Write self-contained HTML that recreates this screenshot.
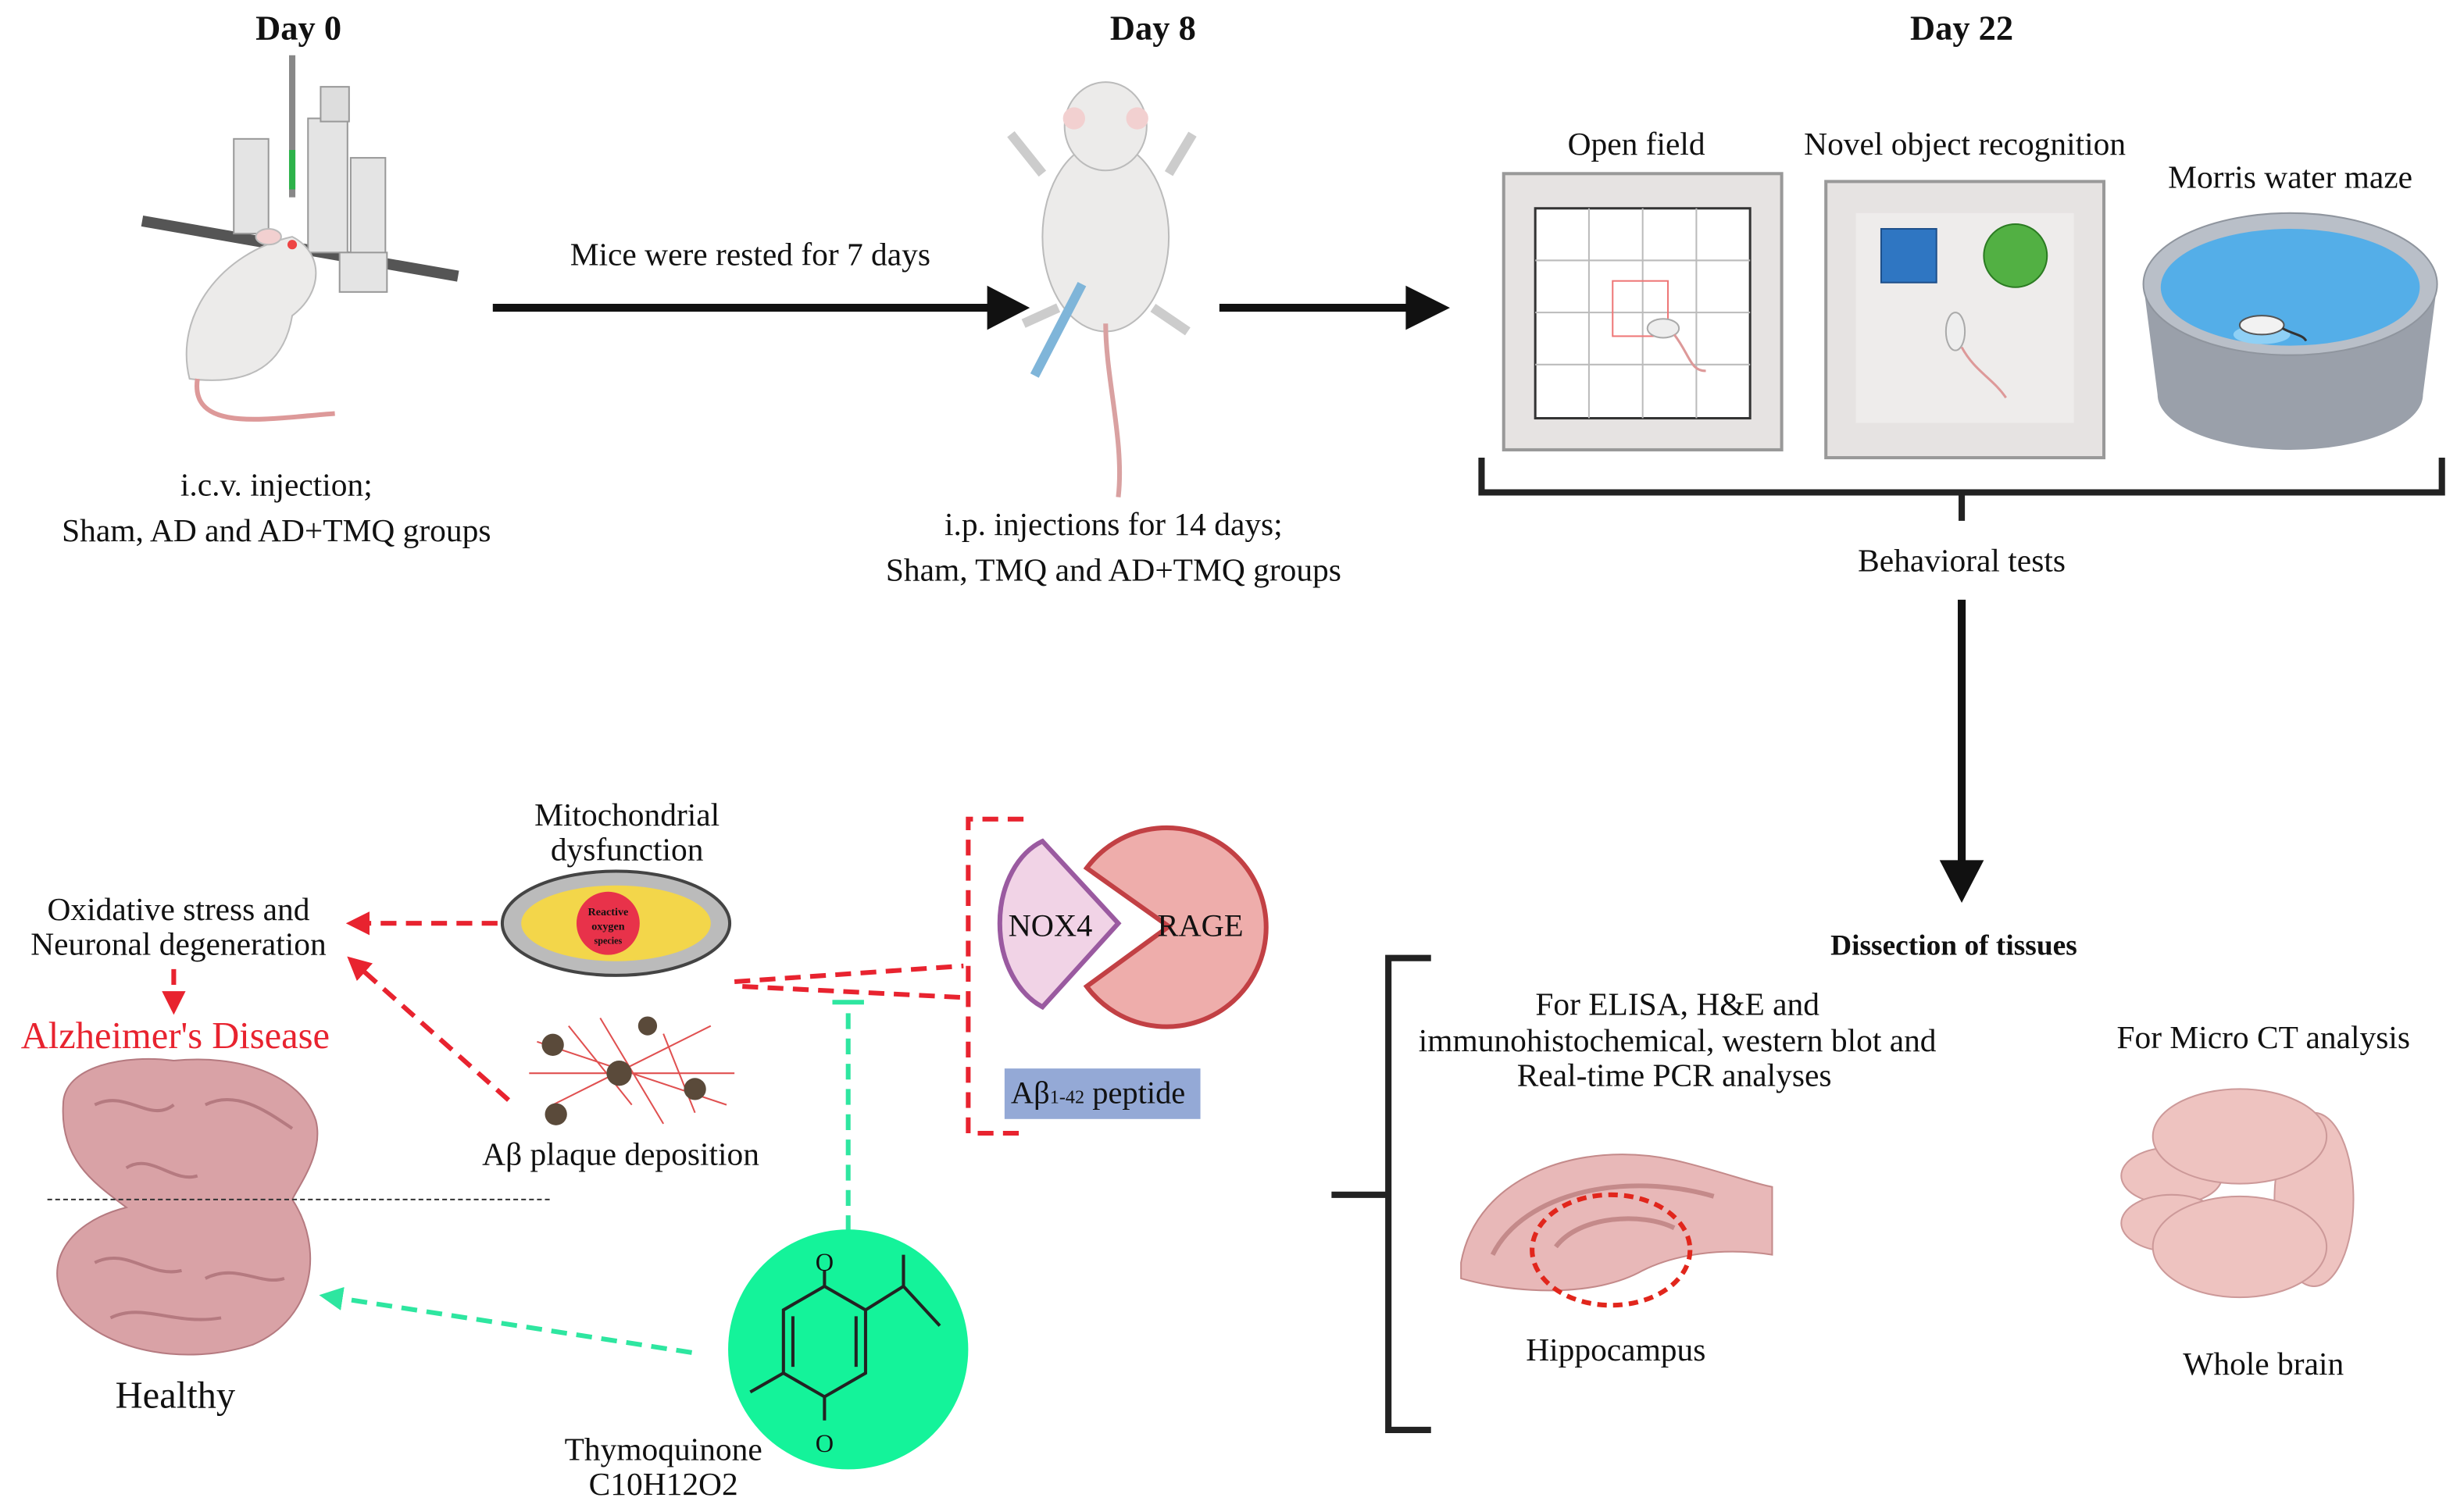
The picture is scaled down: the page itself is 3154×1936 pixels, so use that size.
<!DOCTYPE html>
<html><head><meta charset="utf-8"><style>
html,body{margin:0;padding:0;background:#fff;}
svg{display:block}
text{font-family:"Liberation Serif",serif;fill:#111}
</style></head><body>
<svg width="3154" height="1936" viewBox="0 0 1560 958" preserveAspectRatio="none" xmlns="http://www.w3.org/2000/svg">
<defs>
<marker id="ar" markerWidth="5" markerHeight="5" refX="4" refY="2.5" orient="auto" markerUnits="strokeWidth"><path d="M0,0 L5,2.5 L0,5z" fill="#e8232f"/></marker>
<marker id="at" markerWidth="5" markerHeight="5" refX="4" refY="2.5" orient="auto" markerUnits="strokeWidth"><path d="M0,0 L5,2.5 L0,5z" fill="#2ee6a0"/></marker>
</defs>
<g font-weight="bold" font-size="22" text-anchor="middle">
<text x="189" y="25">Day 0</text><text x="730" y="25">Day 8</text><text x="1242" y="25">Day 22</text></g>
<line x1="312" y1="195" x2="628" y2="195" stroke="#111" stroke-width="5"/>
<path d="M625,181 L652,195 L625,209z" fill="#111"/>
<line x1="772" y1="195" x2="892" y2="195" stroke="#111" stroke-width="5"/>
<path d="M890,181 L918,195 L890,209z" fill="#111"/>
<g font-size="20.5" text-anchor="middle">
<text x="475" y="168">Mice were rested for 7 days</text>
<text x="175" y="314">i.c.v. injection;</text>
<text x="175" y="343">Sham, AD and AD+TMQ groups</text>
<text x="705" y="339">i.p. injections for 14 days;</text>
<text x="705" y="368">Sham, TMQ and AD+TMQ groups</text>
<text x="1036" y="98">Open field</text>
<text x="1244" y="98">Novel object recognition</text>
<text x="1450" y="119">Morris water maze</text>
<text x="1242" y="362">Behavioral tests</text>
</g>
<g>
<line x1="90" y1="140" x2="290" y2="175" stroke="#555" stroke-width="7"/>
<rect x="148" y="88" width="22" height="60" fill="#e4e4e4" stroke="#999"/>
<rect x="195" y="75" width="25" height="85" fill="#e4e4e4" stroke="#999"/>
<rect x="222" y="100" width="22" height="80" fill="#e4e4e4" stroke="#999"/>
<rect x="203" y="55" width="18" height="22" fill="#ddd" stroke="#999"/>
<rect x="215" y="160" width="30" height="25" fill="#e4e4e4" stroke="#999"/>
<line x1="185" y1="35" x2="185" y2="125" stroke="#888" stroke-width="4"/>
<line x1="185" y1="95" x2="185" y2="120" stroke="#2db24a" stroke-width="4"/>
<path d="M120,240 C110,200 140,160 185,150 C205,160 205,185 185,200 C180,230 160,245 120,240z" fill="#ecebea" stroke="#bbb"/>
<circle cx="185" cy="155" r="3" fill="#e44"/>
<ellipse cx="170" cy="150" rx="8" ry="5" fill="#f2d0d0" stroke="#bbb"/>
<path d="M125,240 C120,275 170,265 212,262" fill="none" stroke="#d99" stroke-width="3"/>
</g>
<g>
<ellipse cx="700" cy="150" rx="40" ry="60" fill="#ecebea" stroke="#bbb"/>
<ellipse cx="700" cy="80" rx="26" ry="28" fill="#ecebea" stroke="#bbb"/>
<circle cx="680" cy="75" r="7" fill="#f2d0d0"/><circle cx="720" cy="75" r="7" fill="#f2d0d0"/>
<path d="M660,110 L640,85 M740,110 L755,85 M670,195 L648,205 M730,195 L752,210" stroke="#ccc" stroke-width="6"/>
<path d="M700,205 C700,240 712,280 708,315" fill="none" stroke="#d9a1a1" stroke-width="3"/>
<line x1="685" y1="180" x2="655" y2="238" stroke="#7fb5d9" stroke-width="6"/>
</g>
<rect x="952" y="110" width="176" height="175" fill="#e6e3e2" stroke="#999" stroke-width="2"/>
<rect x="972" y="132" width="136" height="133" fill="#fff" stroke="#333" stroke-width="1.5"/>
<g stroke="#bbb" stroke-width="1">
<line x1="1006" y1="132" x2="1006" y2="265"/><line x1="1040" y1="132" x2="1040" y2="265"/><line x1="1074" y1="132" x2="1074" y2="265"/>
<line x1="972" y1="165" x2="1108" y2="165"/><line x1="972" y1="198" x2="1108" y2="198"/><line x1="972" y1="231" x2="1108" y2="231"/></g>
<rect x="1021" y="178" width="35" height="35" fill="none" stroke="#e77" stroke-width="1"/>
<ellipse cx="1053" cy="208" rx="10" ry="6" fill="#eee" stroke="#aaa"/>
<path d="M1060,212 C1070,225 1070,235 1080,235" fill="none" stroke="#d99" stroke-width="1.5"/>
<rect x="1156" y="115" width="176" height="175" fill="#e6e3e2" stroke="#999" stroke-width="2"/>
<rect x="1175" y="135" width="138" height="133" fill="#eeeceb"/>
<rect x="1191" y="145" width="35" height="34" fill="#2f76c2" stroke="#1d4f8a"/>
<circle cx="1276" cy="162" r="20" fill="#52b043" stroke="#2b7b22"/>
<ellipse cx="1238" cy="210" rx="6" ry="12" fill="#eee" stroke="#aaa"/>
<path d="M1242,220 C1250,235 1262,240 1270,252" fill="none" stroke="#d99" stroke-width="1.5"/>
<path d="M1357,180 L1366,250 A84,35 0 0 0 1534,250 L1543,180z" fill="#9aa0aa"/>
<ellipse cx="1450" cy="180" rx="93" ry="45" fill="#b9bfc8" stroke="#8f959e"/>
<ellipse cx="1450" cy="182" rx="82" ry="37" fill="#54aee8"/>
<ellipse cx="1432" cy="212" rx="18" ry="6" fill="#8fd0f5"/>
<ellipse cx="1432" cy="206" rx="14" ry="6" fill="#f2f2f2" stroke="#555"/>
<path d="M1445,208 C1452,212 1458,212 1460,216" fill="none" stroke="#333" stroke-width="1.5"/>
<path d="M938,290 V312 H1546 V290 M1242,312 V330" fill="none" stroke="#222" stroke-width="4"/>
<line x1="1242" y1="380" x2="1242" y2="548" stroke="#111" stroke-width="5"/>
<path d="M1228,545 L1242,572 L1256,545z" fill="#111"/>
<text x="1237" y="605" font-size="18.5" font-weight="bold" text-anchor="middle">Dissection of tissues</text>
<path d="M906,607 H879 V906 H906 M843,757 H879" fill="none" stroke="#222" stroke-width="4"/>
<g font-size="20.5" text-anchor="middle">
<text x="1062" y="643">For ELISA,  H&amp;E and</text>
<text x="1062" y="666">immunohistochemical, western blot and</text>
<text x="1060" y="688">Real-time PCR  analyses</text>
<text x="1433" y="664">For Micro CT analysis</text>
<text x="1023" y="862">Hippocampus</text>
<text x="1433" y="871">Whole brain</text>
</g>
<path d="M925,800 C935,745 1000,722 1060,735 C1090,742 1110,750 1122,752 V795 C1090,790 1060,795 1040,805 C1010,822 960,820 925,810z" fill="#e8b8b8" stroke="#c48a8a"/>
<path d="M945,795 C965,755 1030,742 1085,758 M985,790 C1000,770 1040,768 1060,778" fill="none" stroke="#c48a8a" stroke-width="3"/>
<ellipse cx="1020" cy="792" rx="50" ry="35" fill="none" stroke="#e1261c" stroke-width="3" stroke-dasharray="6,4"/>
<g fill="#eec3c0" stroke="#c99">
<ellipse cx="1375" cy="745" rx="32" ry="18"/><ellipse cx="1375" cy="775" rx="32" ry="18"/>
<ellipse cx="1465" cy="760" rx="25" ry="55"/>
<ellipse cx="1418" cy="720" rx="55" ry="30"/><ellipse cx="1418" cy="790" rx="55" ry="32"/>
</g>
<g font-size="20.5" text-anchor="middle">
<text x="113" y="583">Oxidative stress and</text>
<text x="113" y="605">Neuronal degeneration</text>
<text x="397" y="523">Mitochondrial</text>
<text x="397" y="545">dysfunction</text>
<text x="393" y="738">Aβ plaque deposition</text>
<text x="111" y="892" font-size="24">Healthy</text>
<text x="420" y="925">Thymoquinone</text>
<text x="420" y="947">C10H12O2</text>
</g>
<text x="111" y="664" font-size="24" text-anchor="middle" style="fill:#e8232f">Alzheimer's Disease</text>
<path d="M40,700 C40,675 80,668 110,672 C150,668 190,680 200,710 C205,730 190,750 185,760 C205,790 200,835 160,852 C120,865 70,858 45,830 C25,805 40,775 80,765 C60,750 38,735 40,700z" fill="#d9a2a6" stroke="#b57a80"/>
<path d="M60,700 C80,690 95,712 110,700 M130,700 C150,690 170,705 185,715 M80,740 C95,730 110,750 125,745 M60,800 C80,790 95,810 115,805 M130,810 C150,800 165,815 180,810 M70,835 C90,825 110,840 140,835" fill="none" stroke="#b57a80" stroke-width="2"/>
<line x1="30" y1="760" x2="350" y2="760" stroke="#333" stroke-width="1" stroke-dasharray="3,2"/>
<g stroke="#e8232f" stroke-width="3" stroke-dasharray="10,6" fill="none">
<line x1="315" y1="585" x2="222" y2="585" marker-end="url(#ar)"/>
<line x1="110" y1="614" x2="110" y2="640" marker-end="url(#ar)"/>
<line x1="322" y1="697" x2="222" y2="608" marker-end="url(#ar)"/>
<path d="M465,622 L610,612 M470,625 L610,632"/>
<path d="M648,519 H613 V718 H648"/>
</g>
<ellipse cx="390" cy="585" rx="72" ry="33" fill="#bbb" stroke="#444" stroke-width="2"/>
<ellipse cx="390" cy="585" rx="60" ry="24" fill="#f3d64a"/>
<circle cx="385" cy="585" r="20" fill="#e8324a"/>
<text x="385" y="580" font-size="7" font-weight="bold" text-anchor="middle">Reactive</text>
<text x="385" y="589" font-size="7" font-weight="bold" text-anchor="middle">oxygen</text>
<text x="385" y="598" font-size="6" font-weight="bold" text-anchor="middle">species</text>
<g stroke="#e05050" stroke-width="1" fill="none">
<path d="M340,660 L460,700 M350,700 L450,650 M380,645 L420,712 M335,680 L465,680 M360,650 L400,700 M420,655 L440,705"/></g>
<g fill="#5a4a3a"><circle cx="350" cy="662" r="7"/><circle cx="392" cy="680" r="8"/><circle cx="440" cy="690" r="7"/><circle cx="410" cy="650" r="6"/><circle cx="352" cy="706" r="7"/></g>
<path d="M660,533 L708,585 L660,638 C645,630 633,610 633,585 C633,560 645,540 660,533z" fill="#f1d3e6" stroke="#9a5aa0" stroke-width="3"/>
<path d="M740,587 L688,550 A63,63 0 1 1 688,625z" fill="#eeadab" stroke="#c24044" stroke-width="3"/>
<text x="665" y="593" font-size="20" text-anchor="middle">NOX4</text>
<text x="760" y="593" font-size="20" text-anchor="middle">RAGE</text>
<rect x="636" y="677" width="124" height="32" fill="#94a9d6"/>
<text x="640" y="699" font-size="20">Aβ<tspan font-size="12">1-42</tspan> peptide</text>
<g stroke="#2ee6a0" stroke-width="3" fill="none">
<line x1="537" y1="780" x2="537" y2="636" stroke-dasharray="10,6"/>
<line x1="527" y1="635" x2="547" y2="635"/>
<line x1="438" y1="857" x2="205" y2="821" stroke-dasharray="10,6" marker-end="url(#at)"/>
</g>
<circle cx="537" cy="855" r="76" fill="#14f39a"/>
<g stroke="#222" stroke-width="2" fill="none">
<path d="M522,815 L548,830 L548,870 L522,885 L496,870 L496,830z"/>
<path d="M522,815 V805 M522,885 V900 M548,830 L572,815 L595,840 M572,815 L572,795 M496,870 L475,882 M502,834 L502,866 M542,834 L542,866"/></g>
<text x="522" y="805" font-size="16" text-anchor="middle">O</text>
<text x="522" y="920" font-size="16" text-anchor="middle">O</text>
</svg>
</body></html>
